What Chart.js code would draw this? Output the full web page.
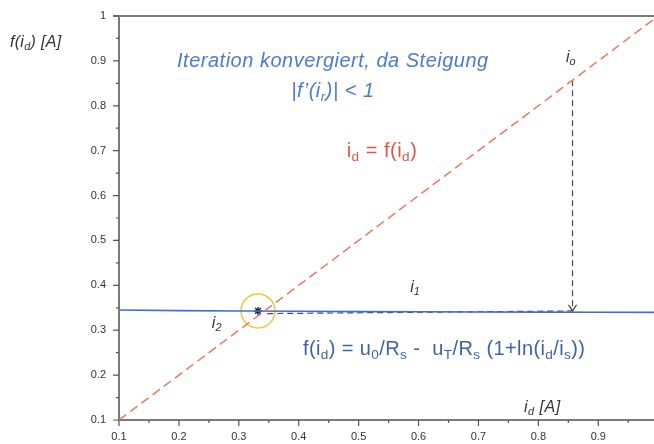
<!DOCTYPE html>
<html>
<head>
<meta charset="utf-8">
<script src="https://cdn.jsdelivr.net/npm/chart.js@4"></script>
<style>
  body { margin: 0; background: #fff; }
  canvas { display: block; }
</style>
</head>
<body>
<canvas id="chart" width="654" height="444"></canvas>
<script>
// tick values
const xTicks = [0.1, 0.2, 0.3, 0.4, 0.5, 0.6, 0.7, 0.8, 0.9];
const yTicks = [0.1, 0.2, 0.3, 0.4, 0.5, 0.6, 0.7, 0.8, 0.9, 1];
const xMinorTicks = [0.15, 0.25, 0.35, 0.45, 0.55, 0.65, 0.75, 0.85, 0.95];
const yMinorTicks = [0.15, 0.25, 0.35, 0.45, 0.55, 0.65, 0.75, 0.85, 0.95];

// i_d = f(i_d) diagonal
const diagX = [0.1, 1.0];
const diagY = [0.1, 1.0];

// f(i_d) curve
const curveX = [0.1, 0.2, 0.3, 0.4, 0.5, 0.6, 0.7, 0.8, 0.9, 1.0];
const curveY = [0.345, 0.3437, 0.3428, 0.3421, 0.3415, 0.341, 0.3406, 0.3403, 0.34, 0.3398];

// iteration path: i_o down to curve, then across to the fixed point
const stepX = [0.857, 0.857, 0.344];
const stepY = [0.857, 0.343, 0.337];

// fixed point
const fixX = [0.332];
const fixY = [0.343];

const pts = (xs, ys) => xs.map((x, i) => ({ x: x, y: ys[i] }));

function richText(ctx, x, y, parts, size, italic, color, align, spacing) {
  const style = italic ? 'italic ' : '';
  ctx.letterSpacing = (spacing || 0) + 'px';
  let w = 0;
  parts.forEach(p => {
    ctx.font = style + (p[1] ? size * 0.68 : size) + 'px "Liberation Sans", Arial, sans-serif';
    w += ctx.measureText(p[0]).width;
  });
  let cx = align === 'center' ? x - w / 2 : x;
  ctx.fillStyle = color;
  ctx.textAlign = 'left';
  ctx.textBaseline = 'alphabetic';
  parts.forEach(p => {
    ctx.font = style + (p[1] ? size * 0.68 : size) + 'px "Liberation Sans", Arial, sans-serif';
    ctx.fillText(p[0], cx, p[1] ? y + size * 0.2 : y);
    cx += ctx.measureText(p[0]).width;
  });
  ctx.letterSpacing = '0px';
}

const extras = {
  id: 'extras',
  afterDraw(chart) {
    const ctx = chart.ctx;
    const xs = chart.scales.x, ys = chart.scales.y;
    const a = chart.chartArea;
    ctx.save();

    // top frame line
    ctx.strokeStyle = '#7a7a7a';
    ctx.lineWidth = 2;
    ctx.beginPath();
    ctx.moveTo(a.left - 6, a.top);
    ctx.lineTo(a.right, a.top);
    ctx.stroke();

    // tick marks
    ctx.lineWidth = 1.2;
    ctx.strokeStyle = '#555';
    ctx.beginPath();
    xTicks.forEach(v => { const p = xs.getPixelForValue(v); ctx.moveTo(p, a.bottom); ctx.lineTo(p, a.bottom + 6); });
    xMinorTicks.forEach(v => { const p = xs.getPixelForValue(v); ctx.moveTo(p, a.bottom); ctx.lineTo(p, a.bottom + 3); });
    yTicks.forEach(v => { const p = ys.getPixelForValue(v); ctx.moveTo(a.left, p); ctx.lineTo(a.left - 6, p); });
    yMinorTicks.forEach(v => { const p = ys.getPixelForValue(v); ctx.moveTo(a.left, p); ctx.lineTo(a.left - 3, p); });
    ctx.stroke();

    // arrow head at end of vertical dashed line
    const ax = xs.getPixelForValue(stepX[1]);
    const ay = ys.getPixelForValue(stepY[1]);
    ctx.strokeStyle = '#444';
    ctx.lineWidth = 1.2;
    ctx.beginPath();
    ctx.moveTo(ax - 4, ay - 6);
    ctx.lineTo(ax, ay);
    ctx.lineTo(ax + 4, ay - 6);
    ctx.stroke();

    // axis titles
    richText(ctx, 10, 47, [['f(i'], ['d', 1], [') [A]']], 16, true, '#333', 'left', 0.3);
    richText(ctx, xs.getPixelForValue(0.776), ys.getPixelForValue(0.118), [['i'], ['d', 1], [' [A]']], 16, true, '#333', 'left', 0.5);

    // annotations
    richText(ctx, xs.getPixelForValue(0.457), ys.getPixelForValue(0.886), [['Iteration konvergiert, da Steigung']], 20, true, '#4a7bd0', 'center', 0.5);
    richText(ctx, xs.getPixelForValue(0.457), ys.getPixelForValue(0.82), [['|f\u2019(i'], ['r', 1], [')| < 1']], 20, true, '#4a7bd0', 'center', 0.5);
    richText(ctx, xs.getPixelForValue(0.539), ys.getPixelForValue(0.686), [['i'], ['d', 1], [' = f(i'], ['d', 1], [')']], 20, false, '#d65a45', 'center', 0.5);
    richText(ctx, xs.getPixelForValue(0.846), ys.getPixelForValue(0.897), [['i'], ['o', 1]], 16, true, '#333', 'left');
    richText(ctx, xs.getPixelForValue(0.586), ys.getPixelForValue(0.385), [['i'], ['1', 1]], 16, true, '#333', 'left');
    richText(ctx, xs.getPixelForValue(0.255), ys.getPixelForValue(0.305), [['i'], ['2', 1]], 16, true, '#333', 'left');
    richText(ctx, xs.getPixelForValue(0.407), ys.getPixelForValue(0.245),
      [['f(i'], ['d', 1], [') = u'], ['0', 1], ['/R'], ['s', 1], [' -  u'], ['T', 1], ['/R'], ['s', 1], [' (1+ln(i'], ['d', 1], ['/i'], ['s', 1], ['))']],
      20, false, '#3f62a8', 'left', 0.4);

    ctx.restore();
  }
};

new Chart(document.getElementById('chart'), {
  type: 'scatter',
  data: {
    datasets: [
      {
        data: pts(diagX, diagY),
        showLine: true,
        borderColor: '#ec7862',
        borderWidth: 1.5,
        borderDash: [9, 5],
        pointRadius: 0
      },
      {
        data: pts(curveX, curveY),
        showLine: true,
        borderColor: '#3d6de0',
        borderWidth: 1.6,
        pointRadius: 0
      },
      {
        data: pts(stepX, stepY),
        showLine: true,
        borderColor: '#4a4a4a',
        borderWidth: 1.2,
        borderDash: [6, 4],
        pointRadius: 0
      },
      {
        data: pts(fixX, fixY),
        pointStyle: 'circle',
        pointRadius: 17,
        borderColor: '#f0c640',
        borderWidth: 1.5,
        backgroundColor: 'rgba(0,0,0,0)'
      },
      {
        data: pts(fixX, fixY),
        pointStyle: 'star',
        pointRadius: 4,
        borderColor: '#222',
        borderWidth: 1.5
      }
    ]
  },
  plugins: [extras],
  options: {
    responsive: false,
    animation: false,
    layout: { autoPadding: false, padding: { top: 16, right: 0, left: 0, bottom: 0 } },
    plugins: { legend: { display: false }, tooltip: { enabled: false } },
    scales: {
      x: {
        type: 'linear',
        min: 0.1,
        max: 0.993,
        grid: { display: false, drawTicks: true, tickLength: 6 },
        border: { display: true, color: '#7a7a7a', width: 2 },
        afterBuildTicks: s => { s.ticks = xTicks.map(v => ({ value: v })); },
        afterFit: s => { s.height = 24; },
        ticks: {
          padding: 4,
          color: '#333',
          font: { family: '"Liberation Sans", Arial, sans-serif', size: 11 },
          callback: v => String(v)
        }
      },
      y: {
        type: 'linear',
        min: 0.1,
        max: 1,
        grid: { display: false, drawTicks: true, tickLength: 6 },
        border: { display: true, color: '#7a7a7a', width: 2 },
        afterBuildTicks: s => { s.ticks = yTicks.map(v => ({ value: v })); },
        afterFit: s => { s.width = 119; },
        ticks: {
          padding: 7,
          color: '#333',
          font: { family: '"Liberation Sans", Arial, sans-serif', size: 11 },
          callback: v => String(v)
        }
      }
    }
  }
});
</script>
</body>
</html>
